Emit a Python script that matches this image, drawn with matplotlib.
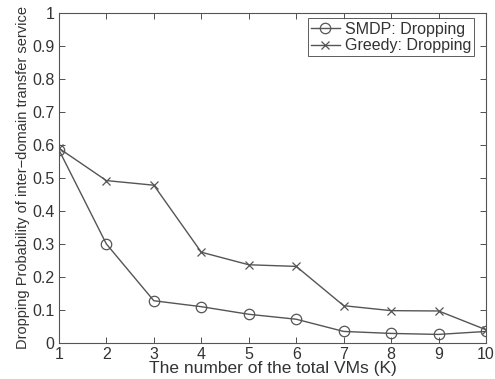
import matplotlib
matplotlib.use('Agg')
import matplotlib.pyplot as plt
import numpy as np

# Define the data
k_values = [1, 2, 3, 4, 5, 6, 7, 8, 9, 10]
smdp_drop = [0.585, 0.30, 0.128, 0.110, 0.087, 0.072, 0.035, 0.029, 0.026, 0.035]
greedy_drop = [0.590, 0.492, 0.478, 0.275, 0.237, 0.232, 0.113, 0.098, 0.097, 0.040]
y_labels = ['0', '0.1', '0.2', '0.3', '0.4', '0.5', '0.6', '0.7', '0.8', '0.9', '1']

plt.rcParams['font.family'] = ['Liberation Sans', 'DejaVu Sans']

fig = plt.figure(figsize=(4.95, 3.79), dpi=100)
ax = fig.add_axes([0.119, 0.095, 0.863, 0.871])

line_color = '#555555'
ax.plot(k_values, smdp_drop, '-o', color=line_color, lw=1.0, markersize=7.5,
        markerfacecolor='none', markeredgewidth=0.9, label='SMDP: Dropping')
ax.plot(k_values, greedy_drop, '-x', color=line_color, lw=1.0, markersize=6,
        markeredgewidth=0.9, label='Greedy: Dropping')

ax.set_xlim(1, 10)
ax.set_ylim(0, 1)
ax.set_xticks(k_values)
ax.set_yticks(np.arange(0, 1.01, 0.1))
ax.set_yticklabels(y_labels)
ax.tick_params(direction='in', top=True, right=True, labelsize=11.5, colors='#333333',
               length=4, width=0.6, pad=3)
for s in ax.spines.values():
    s.set_color('#555555')
    s.set_linewidth(0.8)

ax.set_xlabel('The number of the total VMs (K)', fontsize=12.5, color='#333333', labelpad=-1)
ax.set_ylabel('Dropping Probability of inter\u2212domain transfer service', fontsize=10.5,
              color='#333333', labelpad=2)

leg = ax.legend(loc='upper right', fontsize=11.5, frameon=True, fancybox=False,
                borderaxespad=0.35, bbox_to_anchor=(0.985, 1.0), handlelength=1.8,
                handletextpad=0.3, borderpad=0.2, labelspacing=0.1)
leg.get_frame().set_edgecolor('#333333')
leg.get_frame().set_linewidth(0.7)
for t in leg.get_texts():
    t.set_color('#333333')

fig.savefig('out.png', dpi=100)
